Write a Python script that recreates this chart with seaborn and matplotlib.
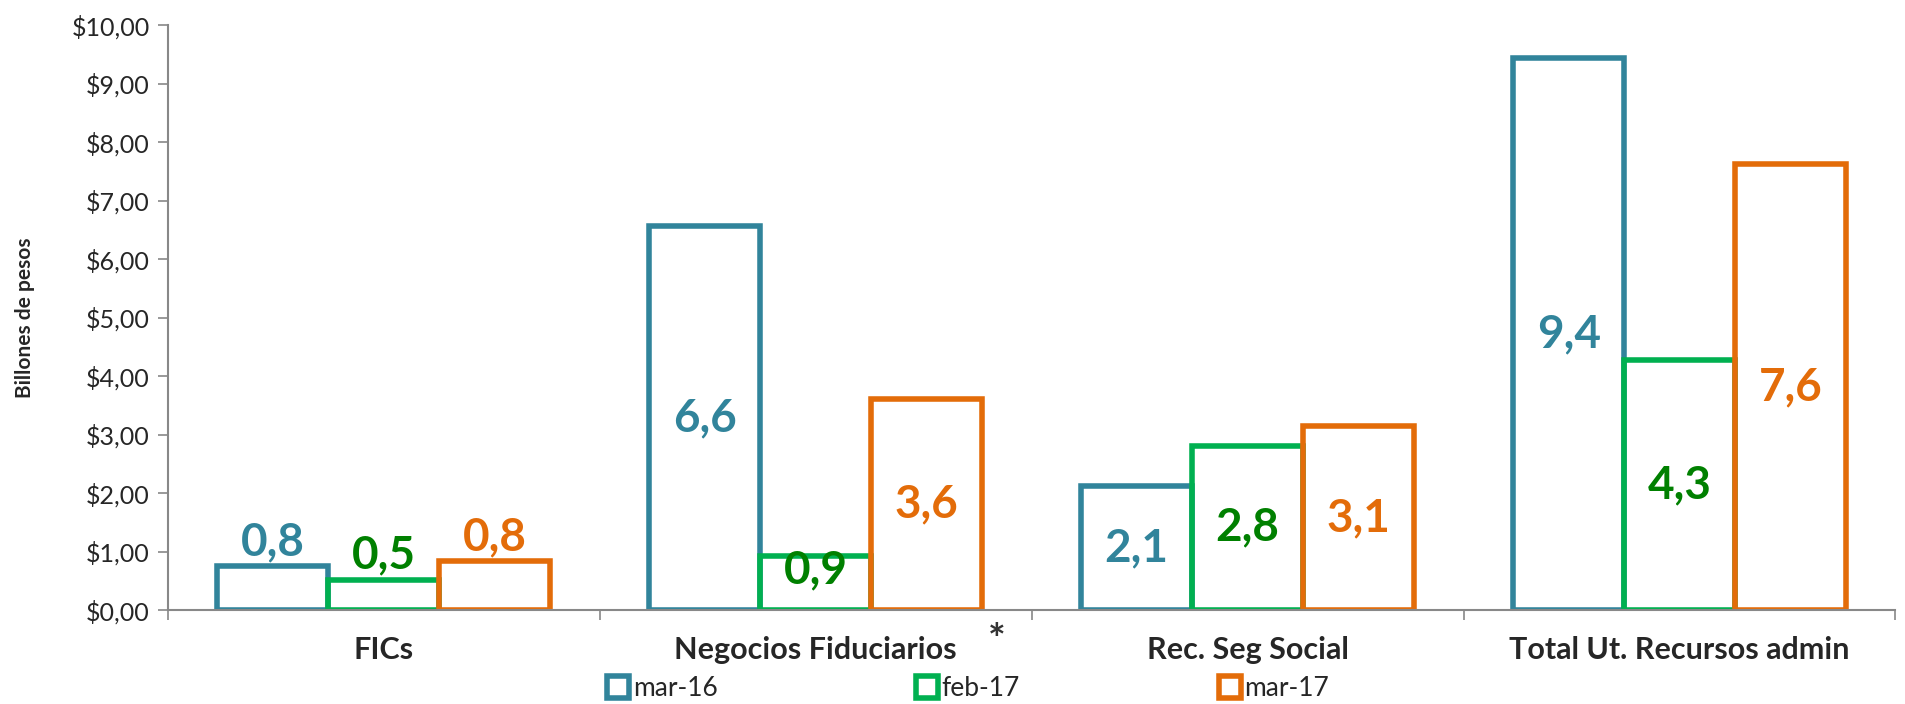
import numpy as np
import pandas as pd
import matplotlib.pyplot as plt
import seaborn as sns
from matplotlib.lines import Line2D
from matplotlib.ticker import FuncFormatter, FixedLocator

categorias = ["FICs", "Negocios Fiduciarios", "Rec. Seg Social", "Total Ut. Recursos admin"]
periodos = ["mar-16", "feb-17", "mar-17"]
mar_16 = [0.75, 6.56, 2.12, 9.44]
feb_17 = [0.52, 0.93, 2.81, 4.28]
mar_17 = [0.84, 3.61, 3.14, 7.63]
etiquetas_mar_16 = ["0,8", "6,6", "2,1", "9,4"]
etiquetas_feb_17 = ["0,5", "0,9", "2,8", "4,3"]
etiquetas_mar_17 = ["0,8", "3,6", "3,1", "7,6"]

colores = ["#31849B", "#00B050", "#E36C09"]
colores_texto = ["#31849B", "#008000", "#E36C09"]

df = pd.DataFrame({
    "categoria": categorias * 3,
    "periodo": [p for p in periodos for _ in categorias],
    "valor": mar_16 + feb_17 + mar_17,
})

sns.set_style("white")
plt.rcParams['font.family'] = ['Lato', 'DejaVu Sans']

fig = plt.figure(figsize=(19.05, 7.04), dpi=100)
ax = fig.add_axes([0.088, 0.1335, 0.907, 0.8305])

sns.barplot(data=df, x="categoria", y="valor", hue="periodo", hue_order=periodos,
            palette=colores, fill=False, width=0.77, gap=0, linewidth=4,
            errorbar=None, legend=False, ax=ax)

# etiquetas de datos
etiquetas = [etiquetas_mar_16, etiquetas_feb_17, etiquetas_mar_17]
for i, cont in enumerate(ax.containers):
    for j, bar in enumerate(cont):
        v = bar.get_height()
        x = bar.get_x() + bar.get_width() / 2
        if v < 0.9:
            ax.text(x, v + 0.05, etiquetas[i][j], ha="center", va="bottom",
                    fontsize=33, fontweight="bold", color=colores_texto[i])
        else:
            ax.text(x, max(v / 2, 0.68), etiquetas[i][j], ha="center", va="center",
                    fontsize=33, fontweight="bold", color=colores_texto[i])

ax.set_ylim(0, 10)
ax.set_xlim(-0.5, 3.5)
ax.yaxis.set_major_locator(FixedLocator(np.arange(0, 11, 1)))
ax.yaxis.set_major_formatter(FuncFormatter(lambda v, p: "$" + f"{v:.2f}".replace(".", ",")))
ax.tick_params(axis="y", labelsize=18, length=7, width=1.2, color="#888888", left=True, pad=6)
ax.set_xticks(range(4))
ax.set_xticklabels(categorias, fontsize=22, fontweight="bold")
ax.tick_params(axis="x", length=0, pad=19)
ax.set_xticks([-0.5, 0.5, 1.5, 2.5, 3.5], minor=True)
ax.tick_params(axis="x", which="minor", length=7, width=1.2, color="#888888", bottom=True)

ax.set_xlabel("")
ax.set_ylabel("Billones de pesos", fontsize=15, fontweight="bold", labelpad=26)

for s in ["top", "right"]:
    ax.spines[s].set_visible(False)
for s in ["left", "bottom"]:
    ax.spines[s].set_color("#888888")
    ax.spines[s].set_linewidth(1.5)

# asterisco
ax.text(1.42, -0.055, "*", transform=ax.get_xaxis_transform(), ha="center", va="center",
        fontsize=30, fontweight="bold", color="#333333")

handles = [Line2D([], [], marker="s", linestyle="", markersize=16, markerfacecolor="white",
                  markeredgecolor=c, markeredgewidth=4) for c in colores]
fig.legend(handles, periodos, loc="center", bbox_to_anchor=(0.508, 0.022), ncol=3,
           frameon=False, fontsize=19, handletextpad=0.1, columnspacing=7.5, handlelength=0.9,
           borderpad=0)

fig.savefig("out.png", dpi=100)
